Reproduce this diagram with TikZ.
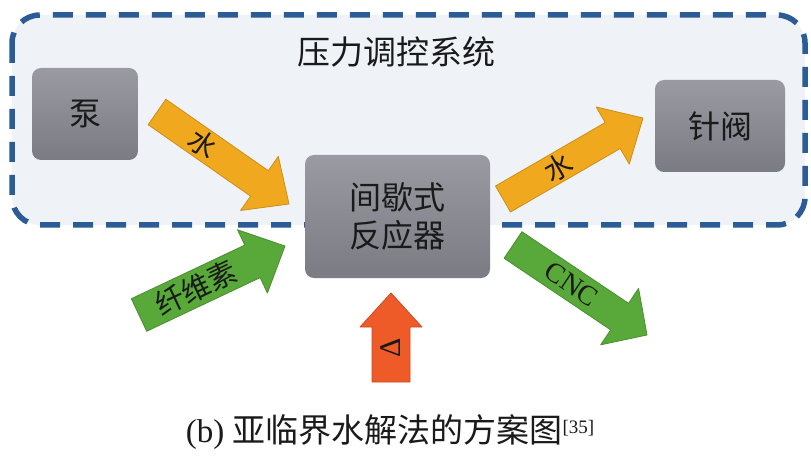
\documentclass[tikz,border=0pt]{standalone}
\usepackage{fontspec}
\setmainfont{Liberation Serif}
\newfontfamily\cjk{Noto Sans CJK SC}
\usetikzlibrary{calc}
\definecolor{framec}{HTML}{2B5C96}
\definecolor{framefill}{HTML}{EFF3F8}
\definecolor{boxtop}{HTML}{9A9AA2}
\definecolor{boxbot}{HTML}{7B7B84}
\definecolor{orangec}{HTML}{F0A81E}
\definecolor{greenc}{HTML}{58A83A}
\definecolor{redc}{HTML}{EE5A28}
\definecolor{txt}{HTML}{1A1A1A}
\tikzset{
  box/.style={rounded corners=9pt, top color=boxtop, bottom color=boxbot, draw=none,
    font=\cjk\fontsize{32}{38}\selectfont, text=txt, align=center, inner sep=0pt},
  lbl/.style={font=\fontsize{28}{30}\selectfont, text=txt, inner sep=0pt},
}
\newcommand\blockarrow[7]{%
  \coordinate (#1neck) at ($(#3)!#6!(#2)$);
  \filldraw[fill=#7, draw=#7!85!black, line width=0.8pt, line join=round]
    ($(#2)!#4!90:(#3)$) -- ($(#1neck)!#4!-90:(#2)$) -- ($(#1neck)!#5!-90:(#2)$) -- (#3)
    -- ($(#1neck)!#5!90:(#2)$) -- ($(#1neck)!#4!90:(#2)$) -- ($(#2)!#4!-90:(#3)$) -- cycle;
}
\begin{document}
\begin{tikzpicture}[x=1pt,y=-1pt]
\useasboundingbox (0,0) rectangle (811,457);
\fill[white] (0,0) rectangle (811,457);
% pressure control frame
\draw[framec, line width=5.5pt, dash pattern=on 20pt off 13pt, fill=framefill, rounded corners=28pt]
  (12,15) rectangle (805,225);
\node[font=\cjk\fontsize{33}{36}\selectfont, text=txt] (title) at (396,52) {压力调控系统};
% boxes
\node[box, minimum width=106pt, minimum height=92pt] (pump) at (85,114) {泵};
\node[box, minimum width=130pt, minimum height=92pt] (valve) at (720,126) {针阀};
\node[box, minimum width=185pt, minimum height=123pt] (reac) at (397.5,216.5) {间歇式\\反应器};
% arrow end points
\coordinate (a1t) at (157,112); \coordinate (a1h) at (289,204);
\coordinate (a2t) at (503,199); \coordinate (a2h) at (643,118);
\coordinate (g1t) at (139,315); \coordinate (g1h) at (285,246);
\coordinate (g2t) at (513,245); \coordinate (g2h) at (647,335);
\coordinate (rt) at (391,382);  \coordinate (rh) at (391,293);
\blockarrow{a1}{a1t}{a1h}{15.5pt}{33pt}{36pt}{orangec}
\blockarrow{a2}{a2t}{a2h}{15pt}{33pt}{35pt}{orangec}
\blockarrow{g1}{g1t}{g1h}{18pt}{35pt}{36pt}{greenc}
\blockarrow{g2}{g2t}{g2h}{16pt}{34pt}{33pt}{greenc}
\blockarrow{r}{rt}{rh}{19pt}{31pt}{34pt}{redc}
% labels on arrows
\path (a1t) -- (a1neck) node[pos=0.45, sloped, lbl, font=\cjk\fontsize{28}{30}\selectfont] {水};
\path (a2t) -- (a2neck) node[pos=0.5, sloped, lbl, font=\cjk\fontsize{28}{30}\selectfont] {水};
\path (g1t) -- (g1neck) node[pos=0.5, sloped, lbl, font=\cjk\fontsize{29}{30}\selectfont] {纤维素};
\path (g2t) -- (g2neck) node[pos=0.55, sloped, lbl] {CNC};
\path (rt) -- (rneck) node[pos=0.62, rotate=90, lbl, font=\fontsize{30}{30}\selectfont] {Δ};
% caption
\node[text=txt, font=\fontsize{33}{36}\selectfont] (cap) at (390,432)
  {(b) {\cjk 亚临界水解法的方案图}\raisebox{9pt}{\fontsize{19}{20}\selectfont[35]}};
\end{tikzpicture}
\end{document}
